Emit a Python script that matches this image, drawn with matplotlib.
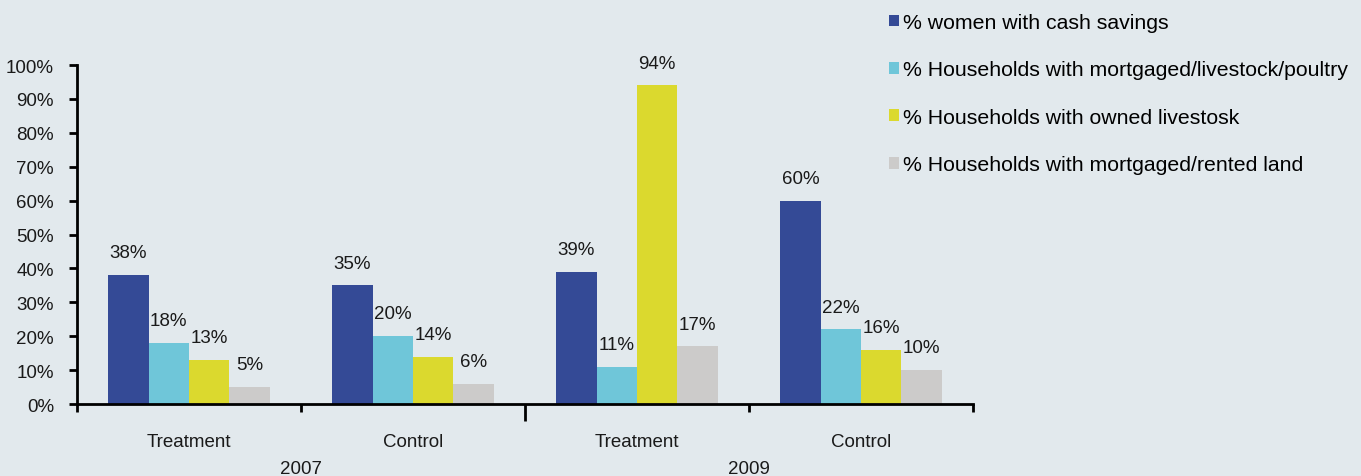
import matplotlib
matplotlib.use("Agg")
import matplotlib.pyplot as plt
from matplotlib.patches import Patch
import numpy as np

plt.rcParams['font.family'] = ['Liberation Sans', 'DejaVu Sans']

groups = ["Treatment", "Control", "Treatment", "Control"]
years = ["2007", "2009"]
series = [
    "% women with cash savings",
    "% Households with mortgaged/livestock/poultry",
    "% Households with owned livestosk",
    "% Households with mortgaged/rented land",
]
women_cash = [38, 35, 39, 60]
hh_mortgaged_livestock = [18, 20, 11, 22]
hh_owned_livestock = [13, 14, 94, 16]
hh_mortgaged_land = [5, 6, 17, 10]
values = [women_cash, hh_mortgaged_livestock, hh_owned_livestock, hh_mortgaged_land]
colors = ["#344a96", "#6fc6d9", "#dbd92e", "#cccbca"]
bg = "#e2e9ed"

fig = plt.figure(figsize=(13.61, 4.77), dpi=100, facecolor=bg)
ax = fig.add_axes([77/1361, 1-405/477, (973-77)/1361, (405-66)/477])
ax.set_facecolor(bg)

x = np.arange(len(groups)) + 0.5
w = 0.18
for i, (vals, c) in enumerate(zip(values, colors)):
    pos = x + (i - 1.5) * w
    bars = ax.bar(pos, [v / 100 for v in vals], width=w, color=c, edgecolor='none', zorder=2)
    for b, v in zip(bars, vals):
        ax.annotate(f"{v}%", (b.get_x() + b.get_width() / 2, b.get_height()),
                    xytext=(0, 16), textcoords='offset points', ha='center', va='center',
                    fontsize=13.5, color='#1a1a1a')

ax.set_xlim(0, 4)
ax.set_ylim(0, 1)
ax.set_yticks(np.arange(0, 1.01, 0.1))
ax.set_yticklabels([f"{int(round(t*100))}%" for t in np.arange(0, 1.01, 0.1)], fontsize=13.5, color='#1a1a1a')
ax.set_xticks([0, 1, 3, 4])
ax.set_xticklabels([])
ax.set_xticks([2], minor=True)
ax.tick_params(axis='x', which='major', length=6, width=2, direction='out', color='black')
ax.tick_params(axis='x', which='minor', length=12.5, width=2, direction='out', color='black')
ax.tick_params(axis='y', length=5.5, width=2, direction='out', color='black', pad=11)
for s in ['top', 'right']:
    ax.spines[s].set_visible(False)
for s in ['left', 'bottom']:
    ax.spines[s].set_linewidth(2)
    ax.spines[s].set_color('black')

tr = ax.get_xaxis_transform()
for xi, g in zip(x, groups):
    ax.text(xi, -0.11, g, transform=tr, ha='center', va='center', fontsize=13.5, color='#1a1a1a')
for j, yr in enumerate(years):
    ax.text(1 + 2 * j, -0.19, yr, transform=tr, ha='center', va='center', fontsize=13.5, color='#1a1a1a')

handles = [Patch(facecolor=c, edgecolor='none') for c in colors]
fig.legend(handles, series, loc='upper left', bbox_to_anchor=(889/1361, 1 - 14/477),
           frameon=False,
           prop={'family': ['Liberation Sans Narrow', 'Liberation Sans'], 'size': 15.3},
           handlelength=0.48, handleheight=0.48, handletextpad=0.2, labelspacing=1.34,
           borderaxespad=0, borderpad=0)

fig.savefig("out.png", dpi=100, facecolor=bg)
